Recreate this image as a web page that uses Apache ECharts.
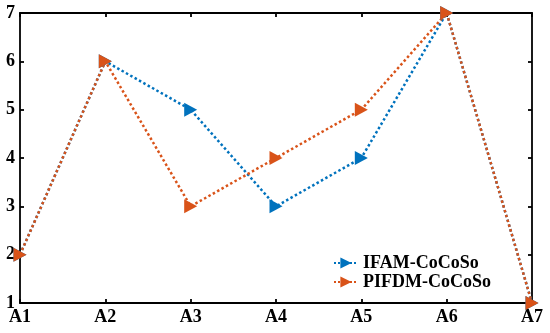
<!DOCTYPE html>
<html><head><meta charset="utf-8">
<script src="https://cdn.jsdelivr.net/npm/echarts@6/dist/echarts.min.js"></script>
<style>html,body{margin:0;padding:0;background:#fff}#c{width:550px;height:333px}</style>
</head><body><div id="c"></div>
<script>
const categories = ['A1','A2','A3','A4','A5','A6','A7'];
const ifam = [2,6,5,3,4,7,1];
const pifdm = [2,6,3,4,5,7,1];
const yTicks = [1,2,3,4,5,6,7];

const font = 'Liberation Serif';
const tri = 'path://M0,0 L10,5 L0,10 Z';
const chart = echarts.init(document.getElementById('c'));
const axLine = {show:true, lineStyle:{color:'#000', width:1.8}};
const tick = {show:true, inside:true, length:4, lineStyle:{color:'#000', width:1.8}};
chart.setOption({
  animation:false,
  backgroundColor:'#fff',
  grid:{left:20, right:18, top:13, bottom:30, containLabel:false},
  legend:{
    left:328, top:249, orient:'vertical', itemGap:1, itemWidth:24, itemHeight:14,
    textStyle:{fontFamily:font, fontWeight:'bold', fontSize:18, color:'#000'},
    data:['IFAM-CoCoSo','PIFDM-CoCoSo']
  },
  xAxis:[
    {type:'category', data:categories, boundaryGap:false, position:'bottom',
     axisLine:axLine, axisTick:tick,
     axisLabel:{fontFamily:font, fontWeight:'bold', fontSize:18, color:'#000', margin:5},
     splitLine:{show:false}},
    {type:'category', data:categories, boundaryGap:false, position:'top',
     axisLine:axLine, axisTick:tick, axisLabel:{show:false}, splitLine:{show:false}}
  ],
  yAxis:[
    {type:'value', min:yTicks[0], max:yTicks[yTicks.length-1], interval:1, position:'left',
     axisLine:axLine, axisTick:tick,
     axisLabel:{fontFamily:font, fontWeight:'bold', fontSize:18, color:'#000', margin:5},
     splitLine:{show:false}},
    {type:'value', min:yTicks[0], max:yTicks[yTicks.length-1], interval:1, position:'right',
     axisLine:axLine, axisTick:tick, axisLabel:{show:false}, splitLine:{show:false}}
  ],
  series:[
    {name:'IFAM-CoCoSo', type:'line', data:ifam, symbol:tri, symbolSize:[13,14], showAllSymbol:true,
     color:'#0072BD', lineStyle:{type:'dotted', width:2.5, color:'#0072BD'},
     itemStyle:{color:'#0072BD'}},
    {name:'PIFDM-CoCoSo', type:'line', data:pifdm, symbol:tri, symbolSize:[13,14], showAllSymbol:true,
     color:'#D95319', lineStyle:{type:'dotted', width:2.5, color:'#D95319'},
     itemStyle:{color:'#D95319'}}
  ]
});
</script></body></html>
